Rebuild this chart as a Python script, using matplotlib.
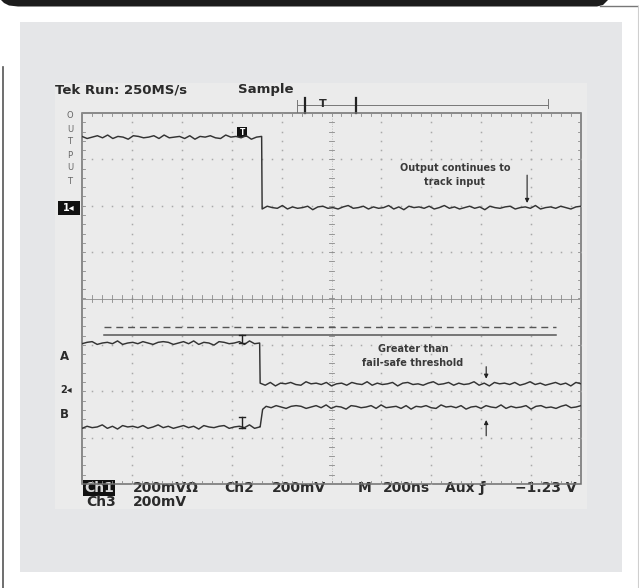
import numpy as np
import matplotlib
matplotlib.use("Agg")
import matplotlib.pyplot as plt
from matplotlib.patches import Rectangle, Polygon

# screen levels, in graticule divisions (0..10 across, -4..4 up)
edge_out = 3.61
edge_in = 3.57
out_high, out_low = 3.48, 1.96
a_high, a_low = -0.96, -1.84
b_low, b_high = -2.77, -2.34
dashed_level = -0.61
solid_level = -0.79

# trace fuzz (hundredths of a division)
jit = [1, -2, 0, 2, -1, 3, -2, 1, 0, -3,
       2, 1, -1, 0, 2, -2, 3, -1, 0, 1,
       -2, 2, -3, 1, 0, 2, -1, -2, 3, 0,
       1, -1, 2, -3, 0, 1, -2, 2, 0, -1,
       3, -2, 1, -1, 0, 2, -3, 1, 2, -1,
       0, -2, 1, 3, -1, 0, 2, -2, 1, -1,
       0, 3, -2, 1, -3, 2, 0, 1, -1, 2,
       -2, 0, 3, -1, 1, -2, 0, 2, -1, 1,
       -3, 2, 0, -1, 1, 2, -2, 0, 1, -1,
       3, -2, 0, 1, -1, 2, 0, -2, 1, 2]
jit = np.array(jit) * 0.015

status_row1 = [("200mVΩ", 133), ("Ch2", 224), ("200mV", 272),
               ("M", 358), ("200ns", 383), ("Aux ƒ", 445)]
status_row2 = [("200mV", 133)]

fig = plt.figure(figsize=(6.39, 5.88), dpi=100)
fig.patch.set_facecolor("white")

# page decoration in pixel coordinates
bg = fig.add_axes([0, 0, 1, 1])
bg.set_xlim(0, 639)
bg.set_ylim(588, 0)
bg.axis("off")
bg.add_patch(Polygon([(0, 0), (608, 0), (603, 5), (597, 6.5), (18, 6.5), (9, 5.5), (4, 3), (1, 0)],
                     closed=True, color="#1c1c1c", lw=0))
bg.plot([600, 639], [6, 6], color="#777777", lw=1)
bg.plot([638, 638], [6, 588], color="#cfcfcf", lw=0.8)
bg.plot([2.5, 2.5], [67, 588], color="#555555", lw=1.2)
bg.add_patch(Rectangle((20, 22), 602, 550, color="#e5e6e8", lw=0))
bg.add_patch(Rectangle((55, 83), 532, 426, color="#ebebeb", lw=0))

txt = "#2b2b2b"
bg.text(55, 90, "Tek Run: 250MS/s", fontsize=9.5, weight="bold", color=txt, va="center")
bg.text(238, 90, "Sample", fontsize=9.5, weight="bold", color=txt, va="center")

# trigger position bracket
bg.plot([297, 548], [105, 105], color="#777777", lw=0.7)
bg.plot([297, 297], [100, 112], color="#777777", lw=0.7)
bg.plot([548, 548], [99, 108], color="#777777", lw=0.7)
bg.plot([305, 305], [98, 113], color="#222222", lw=1.6)
bg.plot([356, 356], [98, 113], color="#222222", lw=1.6)
bg.text(323, 104, "T", fontsize=8, weight="bold", color=txt, ha="center", va="center")

# left side labels
for i, ch in enumerate("OUTPUT"):
    bg.text(70, 116 + i * 13, ch, fontsize=6, color="#666666", ha="center", va="center")
bg.add_patch(Rectangle((58, 201), 22, 14, color="#111111", lw=0))
bg.text(69, 208, "1◂", fontsize=7, weight="bold", color="white", ha="center", va="center")
bg.text(64, 357, "A", fontsize=8.5, weight="bold", color=txt, ha="center", va="center")
bg.text(66, 390, "2◂", fontsize=7, weight="bold", color=txt, ha="center", va="center")
bg.text(64, 414, "B", fontsize=8.5, weight="bold", color=txt, ha="center", va="center")

# status lines
bg.add_patch(Rectangle((83, 480), 32, 16, color="#111111", lw=0))
bg.text(99, 488, "Ch1", fontsize=10, weight="bold", color="#d8d8d8", va="center", ha="center")
for s, x in status_row1:
    bg.text(x, 488, s, fontsize=10, weight="bold", color=txt, va="center")
bg.text(577, 488, "−1.23 V", fontsize=10, weight="bold", color=txt, va="center", ha="right")
bg.text(86, 502, "Ch3", fontsize=10, weight="bold", color=txt, va="center")
for s, x in status_row2:
    bg.text(x, 502, s, fontsize=10, weight="bold", color=txt, va="center")

# graticule
ax = fig.add_axes([82 / 639, (588 - 484) / 588, 499 / 639, 371 / 588])
ax.set_xlim(0, 10)
ax.set_ylim(-4, 4)
ax.axis("off")
ax.patch.set_alpha(0)

grid_c = "#a9a9a9"
minor_x = np.arange(0, 10.01, 0.2)
minor_y = np.arange(-4, 4.01, 0.2)
for gx in range(1, 10):
    if gx != 5:
        ax.plot(np.full_like(minor_y, gx), minor_y, ls="none", marker="s", ms=1.1, color=grid_c, mew=0)
for gy in range(-3, 4):
    if gy != 0:
        ax.plot(minor_x, np.full_like(minor_x, gy), ls="none", marker="s", ms=1.1, color=grid_c, mew=0)

ax.plot([0, 10], [0, 0], color="#9a9a9a", lw=0.7)
ax.plot([5, 5], [-4, 4], color="#b0b0b0", lw=0.6, ls=(0, (1, 2)))
for x in minor_x:
    ax.plot([x, x], [-0.065, 0.065], color="#8a8a8a", lw=0.6)
    ax.plot([x, x], [4, 3.93], color="#8a8a8a", lw=0.6)
    ax.plot([x, x], [-4, -3.93], color="#8a8a8a", lw=0.6)
for y in minor_y:
    ax.plot([4.94, 5.06], [y, y], color="#8a8a8a", lw=0.6)
    ax.plot([0, 0.06], [y, y], color="#8a8a8a", lw=0.6)
    ax.plot([10, 9.94], [y, y], color="#8a8a8a", lw=0.6)
ax.add_patch(Rectangle((0, -4), 10, 8, fill=False, ec="#6e6e6e", lw=1.1, clip_on=False))

# threshold lines
ax.plot([0.44, 9.5], [dashed_level, dashed_level], color="#555555", lw=1.0, ls=(0, (5, 3.5)))
ax.plot([0.44, 9.5], [solid_level, solid_level], color="#555555", lw=1.1)

# traces
n1 = 36
tr = "#333333"
out_x = np.concatenate([np.linspace(0, edge_out - 0.01, n1), np.linspace(edge_out, 10, len(jit) - n1)])
out_y = np.concatenate([out_high + jit[:n1], out_low + jit[n1:]])
ax.plot(out_x, out_y, color=tr, lw=1.05)

a_x = np.concatenate([np.linspace(0, edge_in - 0.01, n1), np.linspace(edge_in, 10, len(jit) - n1)])
jit_a = np.roll(jit, 17)
a_y = np.concatenate([a_high + jit_a[:n1], a_low + jit_a[n1:]])
ax.plot(a_x, a_y, color=tr, lw=1.05)

jit_b = np.roll(jit, 43)
b_x = np.concatenate([np.linspace(0, edge_in - 0.01, n1), [edge_in, edge_in + 0.05],
                      np.linspace(edge_in + 0.12, 10, len(jit) - n1)])
b_y = np.concatenate([b_low + jit_b[:n1], [b_low, b_high - 0.05], b_high + jit_b[n1:]])
ax.plot(b_x, b_y, color=tr, lw=1.05)

# markers on the traces
ax.add_patch(Rectangle((3.11, 3.48), 0.2, 0.22, color="#111111", lw=0))
ax.text(3.21, 3.59, "T", fontsize=5.5, weight="bold", color="white", ha="center", va="center")
for y1, y2 in [(-0.79, -0.96), (-2.55, -2.79)]:
    ax.plot([3.21, 3.21], [y1, y2], color="#222222", lw=1.0)
    ax.plot([3.15, 3.27], [y1, y1], color="#222222", lw=1.0)
    ax.plot([3.15, 3.27], [y2, y2], color="#222222", lw=1.0)

# annotations
note_c = "#3a3a3a"
ax.text(7.47, 2.81, "Output continues to", fontsize=7, weight="bold", color=note_c, ha="center", va="center")
ax.text(7.47, 2.51, "track input", fontsize=7, weight="bold", color=note_c, ha="center", va="center")
ax.text(6.63, -1.09, "Greater than", fontsize=7, weight="bold", color=note_c, ha="center", va="center")
ax.text(6.63, -1.39, "fail-safe threshold", fontsize=7, weight="bold", color=note_c, ha="center", va="center")
arrow = dict(arrowstyle="-|>", color="#222222", lw=0.8, mutation_scale=6, shrinkA=0, shrinkB=0)
ax.annotate("", xy=(8.92, 2.06), xytext=(8.92, 2.66), arrowprops=arrow)
ax.annotate("", xy=(8.1, -1.73), xytext=(8.1, -1.47), arrowprops=arrow)
ax.annotate("", xy=(8.1, -2.62), xytext=(8.1, -2.96), arrowprops=arrow)

fig.savefig("out.png", dpi=100)
